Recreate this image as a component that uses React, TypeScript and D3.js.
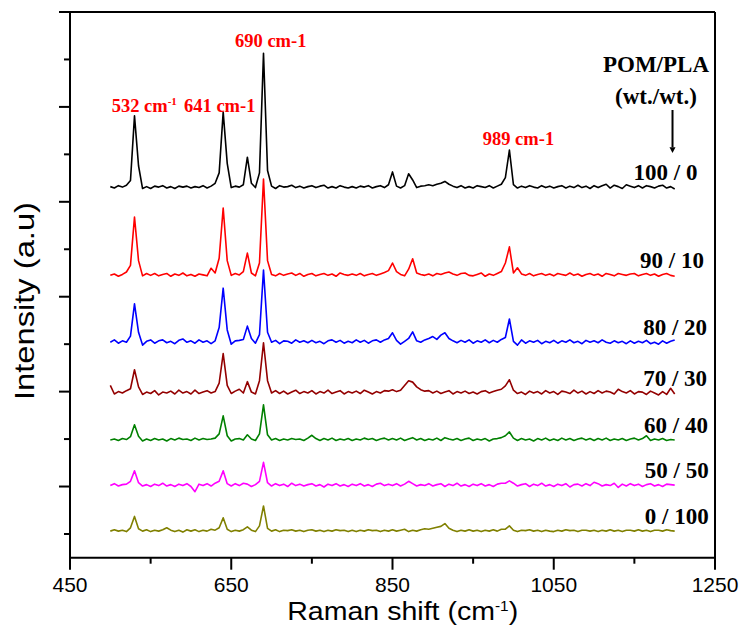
import React from 'react';
import * as d3 from 'd3';

// Sampled Raman shift grid (cm-1)
const WAVENUMBERS: number[] = d3.range(500, 1201, 5);

const LABELS = ['100 / 0', '90 / 10', '80 / 20', '70 / 30', '60 / 40', '50 / 50', '0 / 100'];
const OFFSETS = [731, 546, 405, 298, 199, 103, 7];
const COLORS = ['#000000', '#ff0000', '#0000ff', '#930000', '#008000', '#ff00ff', '#808000'];

// Intensities (a.u.), relative to each trace baseline, one value per 5 cm-1
const I_100_0 = [
  1, -2, 3, 0, 4, 14, 150, 45, -3, 1,
  -3, 2, 0, 3, -2, 1, -3, 2, 0, 2,
  -2, 1, -1, 3, -2, 2, 8, 30, 158, 50,
  -1, 2, 0, 5, 63, 8, -1, 30, 282, 35,
  2, -3, 3, 0, 1, 4, -1, 2, -2, 1,
  3, -1, 2, 4, -2, 1, -2, 3, 0, -2,
  1, -2, 2, 0, 3, -2, 1, 3, -1, 5,
  32, 2, -2, 3, 28, 15, -1, 2, 3, 5,
  3, 6, 8, 12, 6, 2, -1, 3, -2, 1,
  -2, 3, 1, -1, 3, -2, 2, 6, 20, 78,
  5, -2, 2, -1, 3, 0, -2, 3, -1, 2,
  -2, 1, 3, -2, 2, -1, 4, -1, 2, -3,
  3, -1, 3, 6, -2, 4, 1, -3, 5, 2,
  -1, 3, -2, 3, 1, -2, 2, 4, -2, 1,
  -4,
];
const I_90_10 = [
  -1, 2, -3, 1, 6, 20, 122, 30, -2, 3,
  -1, 3, -2, 1, 3, -3, 2, -1, 4, -2,
  1, -3, 2, 0, -2, 14, 4, 35, 141, 30,
  -1, 3, 0, 7, 46, 4, -2, 25, 202, 30,
  1, -2, 3, -1, 2, 4, -1, 3, -3, 1,
  3, -2, 1, 3, -1, 2, -3, 4, 1, -1,
  2, -1, 3, -2, 1, 3, -1, 2, 5, 9,
  25, 7, 1, -2, 12, 34, 4, 1, -1, 2,
  -2, 3, 1, 4, 6, 2, -1, 3, 4, -1,
  -2, 1, 4, -3, 2, -1, 3, 7, 25, 59,
  4, 15, 2, -1, 3, -2, 1, 3, -1, 2,
  -2, 3, 1, -1, 4, -1, 2, -3, 1, 3,
  -1, 2, -3, 3, 1, -2, 3, 1, -1, 2,
  3, -2, 1, 3, -1, 2, -3, 1, 3, -1,
  -3,
];
const I_80_20 = [
  -1, 4, -3, 2, -1, 12, 80, 20, -7, 1,
  4, -3, 2, 4, -2, 1, -4, 3, 6, -1,
  2, -3, 4, -1, 2, -4, 2, 30, 113, 25,
  -5, 2, 3, 5, 33, 7, -3, 15, 151, 20,
  -1, 3, -4, 2, 1, -3, 4, -1, 2, -2,
  3, -2, 1, -4, 2, 4, -1, 3, -3, 1,
  -2, 4, -1, 3, -3, 2, 4, -1, 4, 7,
  19, 3, -5, 1, 7, 21, 2, -1, 4, 7,
  11, 5, 14, 19, 7, 2, -2, 3, -1, 4,
  -3, 2, -1, 4, -2, 3, -1, 5, 9, 48,
  1, -7, 4, -3, 2, -1, 3, -4, 1, -2,
  3, -3, 2, -1, 4, -2, 1, -4, 3, -1,
  2, -2, 4, -1, -3, 2, -2, 1, -4, 2,
  -3, 1, -2, 3, -4, -1, -5, 2, -3, 1,
  4,
];
const I_70_30 = [
  15, -3, 2, -1, 4, 8, 48, 12, -4, 1,
  -2, 4, -5, 1, -1, 3, -3, 5, -1, 2,
  -3, 5, -2, 1, 4, -1, 2, 20, 82, 15,
  -2, 3, 7, -1, 23, 1, -3, 25, 105, 25,
  -1, 4, -2, 3, -3, 1, 5, -2, 2, -1,
  4, -3, 2, -1, 5, -2, 1, 4, -3, 2,
  -1, 3, -2, 5, 1, -3, 2, -1, 4, 3,
  6, 2, 5, 15, 25, 22, 12, 6, 3, 4,
  -1, 3, -2, 1, 4, -3, 2, -1, 3, -2,
  1, -3, 2, 4, -1, 2, 5, 7, 14, 27,
  5, -2, 1, -4, 3, -1, 2, -3, 4, -1,
  2, -4, 3, 1, -2, 5, -1, 3, -3, 2,
  -2, 4, -1, 3, 1, -3, 7, 2, -1, 4,
  -3, 2, 1, -4, 3, -1, -5, 2, -4, 9,
  -3,
];
const I_60_40 = [
  -1, 1, -2, 2, 0, 6, 31, 7, -3, 1,
  -2, 2, -1, 1, -3, 2, -1, 3, 0, 1,
  -2, 3, -1, 2, 0, 1, 3, 12, 50, 8,
  -3, 1, 2, -1, 10, 1, -2, 12, 73, 10,
  -1, 2, -2, 1, -1, 2, 0, 1, -2, 3,
  9, 2, -2, 2, -1, 3, -2, 1, -1, 2,
  -2, 1, -1, 3, 0, 2, -2, 1, 3, -1,
  2, -1, 3, -2, 1, 4, -1, 2, -2, 1,
  -1, 3, -2, 4, 1, -1, 2, -2, 1, 3,
  -2, 1, -1, 2, -3, 1, 2, 4, 8, 16,
  3, -2, 2, -1, 1, -3, 2, -1, 3, -2,
  1, -2, 3, -1, 2, -2, 1, 3, -1, 2,
  -2, 2, -1, 3, -2, 1, -1, 2, -2, 1,
  3, -1, 2, 8, -2, 1, -1, 2, -2, 0,
  -1,
];
const I_50_50 = [
  -1, 3, -2, 1, 2, 8, 30, 5, -2, 1,
  -3, 2, -1, 4, -2, 1, -3, 2, -1, 3,
  -3, -14, 2, -1, 3, -2, 4, 8, 30, 3,
  -2, 3, -1, 4, 2, -3, 1, 8, 48, 5,
  -2, 3, -1, 2, -3, 4, -1, 2, -2, 1,
  3, -2, 1, -4, 2, -1, 3, -2, 1, -3,
  2, -1, 3, -2, 1, -3, 2, 4, -1, 2,
  -1, 3, -2, 2, 8, 3, -2, 1, -1, 3,
  -2, 1, 3, -3, 2, -1, 4, -2, 1, -3,
  2, -1, 3, -2, 1, -3, 2, 4, 4, 9,
  4, -2, 1, 3, -3, 2, -1, 4, -2, 1,
  -3, 2, -1, 3, -4, 1, 2, -2, 3, -1,
  6, 3, -2, 1, -1, 4, -5, 2, -2, 3,
  -1, 2, -3, 1, 3, -2, 1, -3, 2, 1,
  0,
];
const I_0_100 = [
  -1, 2, -1, 1, -2, 6, 30, 4, -1, 2,
  -2, 1, -1, 2, 6, 1, -2, 1, -3, 2,
  -1, 2, -2, 1, -1, 3, 1, 6, 27, 3,
  -2, 1, -1, 2, 8, 1, -2, 10, 52, 5,
  -1, 2, -2, 1, 0, 2, -1, 1, -2, 1,
  2, -1, 1, -2, 1, -1, 2, 0, 1, -2,
  1, -2, 1, -1, 2, 0, 1, -2, 1, -1,
  2, -1, 1, 3, -2, 1, -1, 2, 4, 3,
  5, 7, 9, 15, 5, 1, -2, 1, -1, 2,
  -1, 1, -2, 1, -1, 2, -1, 3, 3, 10,
  1, -2, 1, 0, 2, -1, 1, -2, 1, -1,
  -2, 1, -1, 2, 0, 1, -2, 1, 1, -1,
  1, -2, 1, -1, 2, -1, 1, -2, 1, 1,
  -1, 2, -1, 1, -2, 1, 1, -1, 2, 0,
  -1,
];
const SERIES = [I_100_0, I_90_10, I_80_20, I_70_30, I_60_40, I_50_50, I_0_100];

const X_TICKS = [450, 550, 650, 750, 850, 950, 1050, 1150, 1250];
const X_TICK_LABELS = [450, 650, 850, 1050, 1250];
const Y_TICKS = [0, 100, 200, 300, 400, 500, 600, 700, 800, 900, 1000, 1100];

const PEAK_TEXT = ['532 cm', '641 cm-1', '690 cm-1', '989 cm-1'];

const W = 747;
const H = 644;
const SERIF = '"Liberation Serif", "Times New Roman", serif';
const SANS = '"Liberation Sans", Arial, sans-serif';

export default function App() {
  const x = d3.scaleLinear().domain([450, 1250]).range([70, 715]);
  const y = d3.scaleLinear().domain([-50, 1100]).range([557.7, 12]);
  const bottom = y(-50);
  const top = y(1100);
  const left = x(450);
  const right = x(1250);

  // label placement (data coordinates)
  const labelStart = [1149, 1157, 1161, 1161, 1162, 1163, 1163];
  const peakPos = [
    [501.7, 890],
    [591.4, 890],
    [654.7, 1027],
    [961.9, 819],
  ];

  return (
    <svg width={W} height={H} style={{ position: 'absolute', left: 0, top: 0 }}>
      <rect x={0} y={0} width={W} height={H} fill="#ffffff" />
      {SERIES.map((vals, k) => {
        const line = d3
          .line<number>()
          .x((_, i) => x(WAVENUMBERS[i]))
          .y((d) => y(d + OFFSETS[k]));
        return (
          <path
            key={k}
            d={line(vals) || ''}
            fill="none"
            stroke={COLORS[k]}
            strokeWidth={1.6}
            strokeLinejoin="round"
          />
        );
      })}

      {/* frame */}
      <g stroke="#000" strokeWidth={2} fill="none">
        <line x1={left} y1={top} x2={right} y2={top} />
        <line x1={right} y1={top} x2={right} y2={bottom} />
        <line x1={left} y1={bottom + 1} x2={left} y2={top - 1} />
        <line x1={left - 1} y1={bottom} x2={right + 1} y2={bottom} />
      </g>

      {/* x ticks */}
      <g stroke="#000" strokeWidth={2}>
        {X_TICKS.map((t, i) => (
          <line key={t} x1={x(t)} x2={x(t)} y1={bottom} y2={bottom + (i % 2 === 0 ? 12 : 6)} />
        ))}
      </g>
      <g fontFamily={SANS} fontSize={21} textAnchor="middle" fill="#000">
        {X_TICK_LABELS.map((t) => (
          <text key={t} x={x(t)} y={592}>
            {t}
          </text>
        ))}
      </g>

      {/* y ticks */}
      <g stroke="#000" strokeWidth={2}>
        {Y_TICKS.map((t, i) => (
          <line key={t} x1={left} x2={left - (i % 2 === 1 ? 11 : 6)} y1={y(t)} y2={y(t)} />
        ))}
      </g>

      {/* axis titles */}
      <text
        x={402.7}
        y={620}
        fontFamily={SANS}
        fontSize={26}
        textAnchor="middle"
        fill="#000"
        textLength={231}
        lengthAdjust="spacingAndGlyphs"
      >
        Raman shift (cm
        <tspan fontSize={14} dy={-9}>-1</tspan>
        <tspan dy={9}>)</tspan>
      </text>
      <text
        transform="translate(33.5,301) rotate(-90)"
        fontFamily={SANS}
        fontSize={28}
        textAnchor="middle"
        fill="#000"
        textLength={198}
        lengthAdjust="spacingAndGlyphs"
      >
        Intensity (a.u)
      </text>

      {/* peak labels */}
      <g fontFamily={SERIF} fontWeight="bold" fontSize={18.5} fill="#ff0000">
        <text x={x(peakPos[0][0])} y={y(peakPos[0][1])}>
          {PEAK_TEXT[0]}
          <tspan fontSize={11} dy={-7}>-1</tspan>
        </text>
        {PEAK_TEXT.slice(1).map((t, i) => (
          <text key={t} x={x(peakPos[i + 1][0])} y={y(peakPos[i + 1][1])}>
            {t}
          </text>
        ))}
      </g>

      {/* legend header + arrow */}
      <g fontFamily={SERIF} fontWeight="bold" fontSize={23} fill="#000" textAnchor="middle">
        <text x={x(1176.8)} y={y(974.2)}>POM/PLA</text>
        <text x={x(1176.8)} y={y(906.2)}>(wt./wt.)</text>
      </g>
      <line x1={x(1197.3)} x2={x(1197.3)} y1={y(893.5)} y2={y(815)} stroke="#000" strokeWidth={2} />
      <polygon
        points={`${x(1197.3) - 3},${y(815)} ${x(1197.3) + 3},${y(815)} ${x(1197.3)},${y(803)}`}
        fill="#000"
      />

      {/* series labels */}
      <g fontFamily={SERIF} fontWeight="bold" fontSize={23} fill="#000">
        {LABELS.map((l, k) => (
          <text key={l} x={x(labelStart[k])} y={y(OFFSETS[k]) - 7}>
            {l}
          </text>
        ))}
      </g>
    </svg>
  );
}
